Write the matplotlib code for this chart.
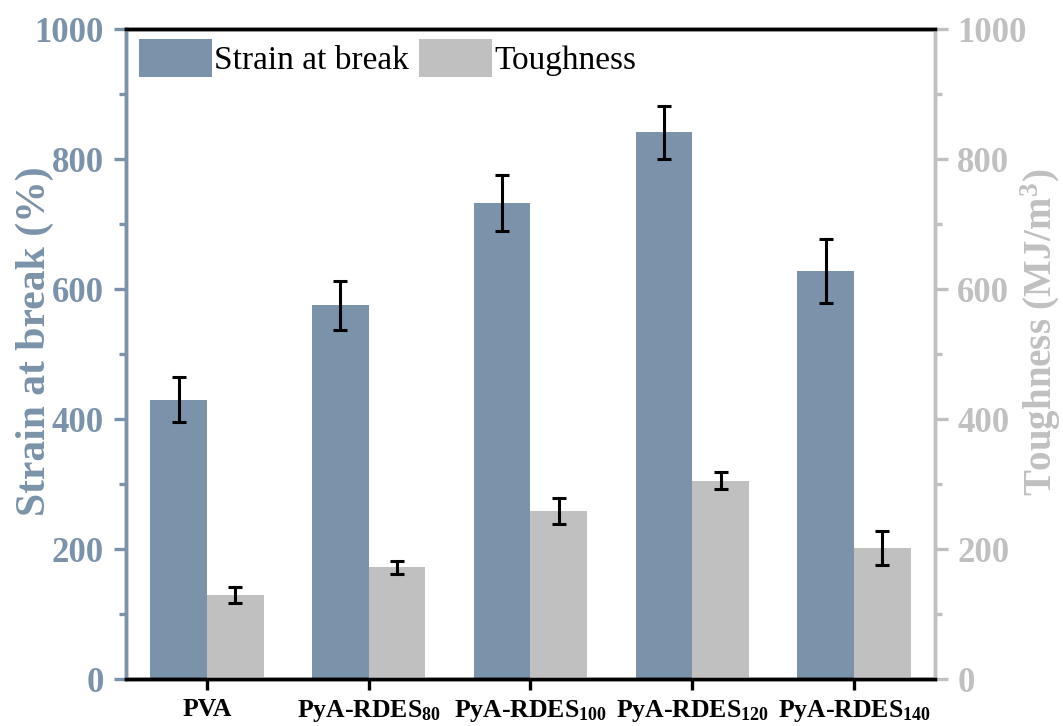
import matplotlib
matplotlib.use("Agg")
import matplotlib.pyplot as plt
import numpy as np
from matplotlib.ticker import MultipleLocator

plt.rcParams['font.family'] = ['Liberation Serif', 'DejaVu Serif']
plt.rcParams['mathtext.fontset'] = 'custom'
plt.rcParams['mathtext.rm'] = 'Liberation Serif:bold'
plt.rcParams['mathtext.bf'] = 'Liberation Serif:bold'
plt.rcParams['mathtext.it'] = 'Liberation Serif:bold'

categories = ['PVA', r'PyA-RDES$_{\mathbf{80}}$', r'PyA-RDES$_{\mathbf{100}}$',
              r'PyA-RDES$_{\mathbf{120}}$', r'PyA-RDES$_{\mathbf{140}}$']
strain = [430, 575, 733, 841, 628]
strain_err = [34, 38, 43, 41, 49]
toughness = [129, 172, 258, 305, 202]
toughness_err = [12, 10, 20, 13, 26]

c_strain = '#7a93aa'
c_tough = '#c0c0c0'

fig = plt.figure(figsize=(10.63, 7.26), dpi=100)
ax = fig.add_axes([0.1185, 0.0647, 0.7611, 0.8953])
ax2 = ax.twinx()

x = np.arange(len(categories))
w = 0.35
ekw = dict(elinewidth=2.2, capthick=2.2, ecolor='black')
b1 = ax.bar(x - w/2, strain, w, color=c_strain, yerr=strain_err, capsize=5.2,
            error_kw=ekw, label='Strain at break', zorder=2)
b2 = ax2.bar(x + w/2, toughness, w, color=c_tough, yerr=toughness_err, capsize=5.2,
             error_kw=ekw, label='Toughness', zorder=2)

ax.set_xlim(-0.5, 4.5)
ax.set_ylim(0, 1000)
ax2.set_ylim(0, 1000)
ax.set_xticks(x)
ax.set_xticklabels(categories, fontsize=18.5, fontweight='bold')

for a in (ax, ax2):
    a.yaxis.set_major_locator(MultipleLocator(200))
    a.yaxis.set_minor_locator(MultipleLocator(100))

ax.tick_params(axis='y', which='major', colors=c_strain, labelsize=25, length=9, width=2.4, direction='out', pad=7)
ax.tick_params(axis='y', which='minor', colors=c_strain, length=5, width=2.4, direction='out')
ax2.tick_params(axis='y', which='major', colors=c_tough, labelsize=25, length=9, width=2.4, direction='out', pad=7)
ax2.tick_params(axis='y', which='minor', colors=c_tough, length=5, width=2.4, direction='out')
ax.tick_params(axis='x', which='major', length=8, width=2.4, direction='out', pad=6)
ax.tick_params(axis='x', which='minor', bottom=False)

for lab in ax.get_yticklabels():
    lab.set_fontweight('bold')
for lab in ax2.get_yticklabels():
    lab.set_fontweight('bold')

for a in (ax, ax2):
    a.spines['left'].set_color(c_strain)
    a.spines['right'].set_color(c_tough)
    a.spines['top'].set_color('black')
    a.spines['bottom'].set_color('black')
    for s in a.spines.values():
        s.set_linewidth(2.5)

ax.set_ylabel('Strain at break (%)', fontsize=30, fontweight='bold', color=c_strain)
ax.yaxis.set_label_coords(-0.089, 0.52)
ax2.set_ylabel(r'Toughness (MJ/m$^{\mathbf{3}}$)', fontsize=28, fontweight='bold', color=c_tough,
               rotation=90)
ax2.yaxis.set_label_coords(1.103, 0.534)

leg = ax.legend([b1, b2], ['Strain at break', 'Toughness'], loc='upper left', ncol=2,
                frameon=False, fontsize=24, handlelength=2.2, handleheight=1.4,
                handletextpad=0.06, columnspacing=0.3, borderaxespad=0.0, borderpad=0.0,
                bbox_to_anchor=(0.016, 0.985))

fig.savefig('out.png', dpi=100)
